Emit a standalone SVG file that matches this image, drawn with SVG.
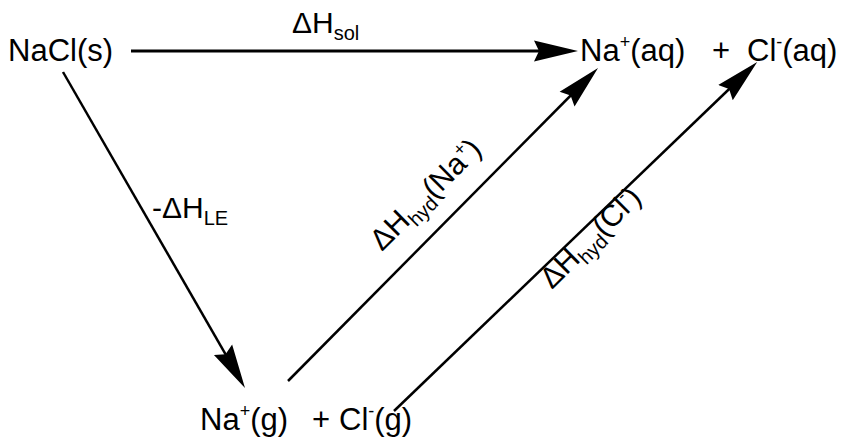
<svg xmlns="http://www.w3.org/2000/svg" width="842" height="439" viewBox="0 0 842 439">
<style>
text{font-family:"Liberation Sans",Arial,sans-serif;fill:#000}
.sp{font-size:31px}
.lb{font-size:30px}
.sub{font-size:20px}
.sup{font-size:18px}
.ln{stroke:#000;fill:none}
</style>
<defs>
<marker id="ah" markerUnits="userSpaceOnUse" markerWidth="44" markerHeight="24" viewBox="0 -12 44 24" refX="34" refY="0" orient="auto">
<path d="M0,-10.5 L44,0 L0,10.5 L5,0 Z" fill="#000"/>
</marker>
</defs>
<g id="connectors">
<line class="ln" x1="131" y1="51" x2="568" y2="51" stroke-width="3" marker-end="url(#ah)"/>
<line class="ln" x1="63" y1="72" x2="240" y2="379.3" stroke-width="2.5" marker-end="url(#ah)"/>
<line class="ln" x1="288" y1="381" x2="591" y2="75" stroke-width="2.5" marker-end="url(#ah)"/>
<line class="ln" x1="394" y1="411" x2="750" y2="69" stroke-width="2.5" marker-end="url(#ah)"/>
</g>
<g id="nacl_s"><text class="sp" x="8" y="61">NaCl(s)</text></g>
<g id="aq_ions"><text class="sp" x="580" y="61">Na<tspan class="sup" dy="-13">+</tspan><tspan dy="13">(aq)</tspan><tspan x="712">+</tspan><tspan x="747">Cl</tspan><tspan class="sup" dy="-13">-</tspan><tspan dy="13">(aq)</tspan></text></g>
<g id="g_ions"><text class="sp" x="200" y="430">Na<tspan class="sup" dy="-13">+</tspan><tspan dy="13">(g)</tspan><tspan x="312">+</tspan><tspan x="339">Cl</tspan><tspan class="sup" dy="-13">-</tspan><tspan dy="13">(g)</tspan></text></g>
<g id="label_sol"><text class="lb" x="292" y="33">ΔH<tspan class="sub" dy="7">sol</tspan></text></g>
<g id="label_le"><text class="lb" x="152" y="218">-ΔH<tspan class="sub" dy="7">LE</tspan></text></g>
<g id="label_hyd_na"><text class="lb" transform="translate(382,252) rotate(-45)">ΔH<tspan class="sub" dy="7">hyd</tspan><tspan dy="-7">(Na</tspan><tspan class="sup" dy="-12">+</tspan><tspan dy="12">)</tspan></text></g>
<g id="label_hyd_cl"><text class="lb" transform="translate(552,290) rotate(-45)">ΔH<tspan class="sub" dy="7">hyd</tspan><tspan dy="-7">(Cl</tspan><tspan class="sup" dy="-12">-</tspan><tspan dy="12">)</tspan></text></g>
</svg>
